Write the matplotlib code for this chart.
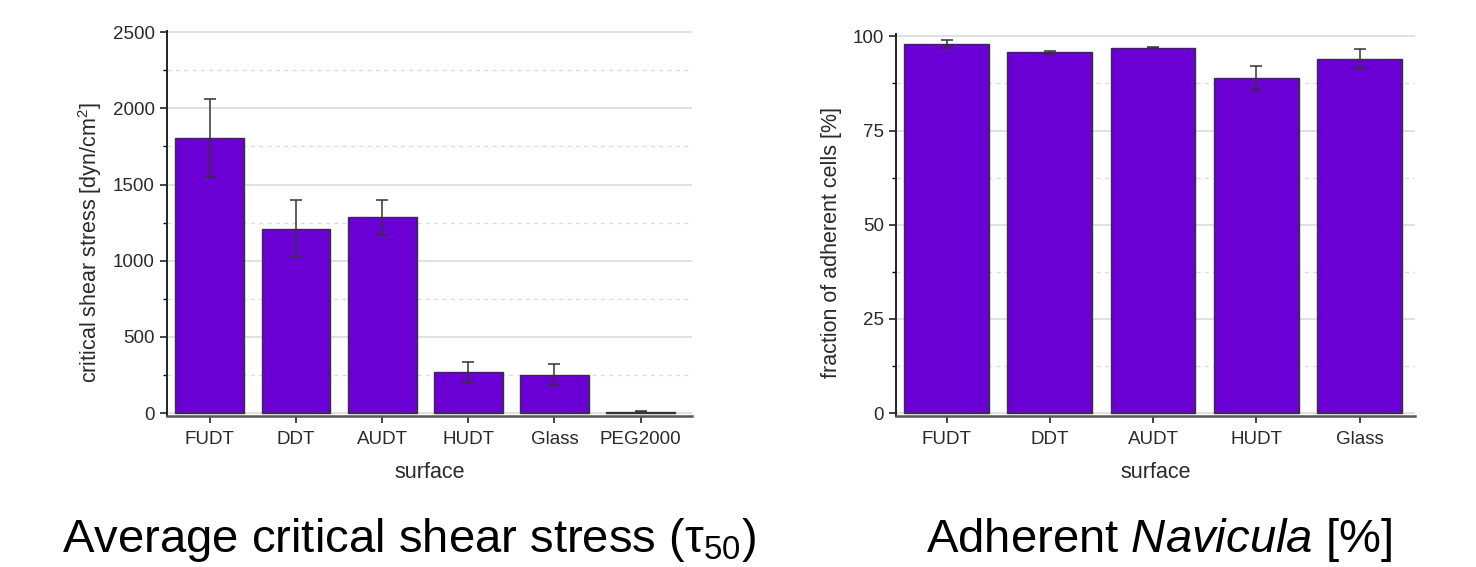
import matplotlib
matplotlib.use("Agg")
import matplotlib.pyplot as plt
from matplotlib.ticker import MultipleLocator

plt.rcParams['font.family'] = ['Liberation Sans', 'DejaVu Sans']
plt.rcParams['mathtext.fontset'] = 'custom'
plt.rcParams['mathtext.rm'] = 'Liberation Sans'
plt.rcParams['mathtext.it'] = 'Liberation Sans:italic'

# critical shear stress per surface
shear_surfaces = ['FUDT', 'DDT', 'AUDT', 'HUDT', 'Glass', 'PEG2000']
shear_mean = [1805, 1210, 1285, 268, 252, 8]
shear_err = [258, 187, 116, 69, 68, 3]

# adherent Navicula fraction per surface
adh_surfaces = ['FUDT', 'DDT', 'AUDT', 'HUDT', 'Glass']
adh_mean = [97.9, 95.7, 97.0, 88.9, 93.9]
adh_err = [1.1, 0.3, 0.2, 3.2, 2.7]

bar_color = '#6a00d4'
text_color = '#2a2a2a'

fig = plt.figure(figsize=(14.76, 5.67), dpi=100)
ax1 = fig.add_axes([0.113, 0.266, 0.356, 0.680])
ax2 = fig.add_axes([0.607, 0.266, 0.352, 0.674])


def style_axes(ax, major, minor):
    ax.yaxis.set_major_locator(MultipleLocator(major))
    ax.yaxis.set_minor_locator(MultipleLocator(minor))
    ax.grid(axis='y', which='major', color='#dcdcdc', lw=1.2, ls='-')
    ax.grid(axis='y', which='minor', color='#dcdcdc', lw=1.0, ls=(0, (3, 3)))
    ax.set_axisbelow(True)
    for s in ['top', 'right']:
        ax.spines[s].set_visible(False)
    ax.spines['left'].set_linewidth(1.4)
    ax.spines['left'].set_color('#222222')
    ax.spines['bottom'].set_linewidth(1.8)
    ax.spines['bottom'].set_color('#555555')
    ax.tick_params(axis='both', which='major', labelsize=13.5, length=5,
                   width=1.2, direction='out', color='#222222',
                   labelcolor=text_color)
    ax.tick_params(axis='y', which='minor', length=3, width=1.0)
    ax.tick_params(axis='x', pad=6)
    ax.set_xlabel('surface', fontsize=15.5, labelpad=10, color=text_color)


# left: critical shear stress
x1 = range(len(shear_surfaces))
ax1.bar(x1, shear_mean, width=0.8, color=bar_color, edgecolor='#333333',
        linewidth=1.0, zorder=2)
ax1.errorbar(x1, shear_mean, yerr=shear_err, fmt='none', ecolor='#333333',
             elinewidth=1.1, capsize=4, capthick=1.1, zorder=3)
ax1.set_xticks(list(x1))
ax1.set_xticklabels(shear_surfaces)
ax1.set_xlim(-0.5, 5.6)
ax1.set_ylim(-20, 2510)
style_axes(ax1, 500, 250)
ax1.set_ylabel('critical shear stress [dyn/cm$^{2}$]', fontsize=15.5,
               color=text_color)
ax1.yaxis.set_label_coords(-0.12, 0.45)

# right: adherent fraction
x2 = range(len(adh_surfaces))
ax2.bar(x2, adh_mean, width=0.82, color=bar_color, edgecolor='#333333',
        linewidth=1.0, zorder=2)
ax2.errorbar(x2, adh_mean, yerr=adh_err, fmt='none', ecolor='#333333',
             elinewidth=1.1, capsize=4, capthick=1.1, zorder=3)
ax2.set_xticks(list(x2))
ax2.set_xticklabels(adh_surfaces)
ax2.set_xlim(-0.49, 4.54)
ax2.set_ylim(-0.8, 100.6)
style_axes(ax2, 25, 12.5)
ax2.set_ylabel('fraction of adherent cells [%]', fontsize=15.5,
               color=text_color)
ax2.yaxis.set_label_coords(-0.104, 0.455)

# captions below each panel
fig.text(0.277, 0.027, 'Average critical shear stress (τ$_{50}$)',
         fontsize=34, ha='center', va='baseline')
fig.text(0.785, 0.027, r'Adherent $\mathit{Navicula}$ [%]',
         fontsize=34, ha='center', va='baseline')

fig.savefig('out.png', dpi=100)
